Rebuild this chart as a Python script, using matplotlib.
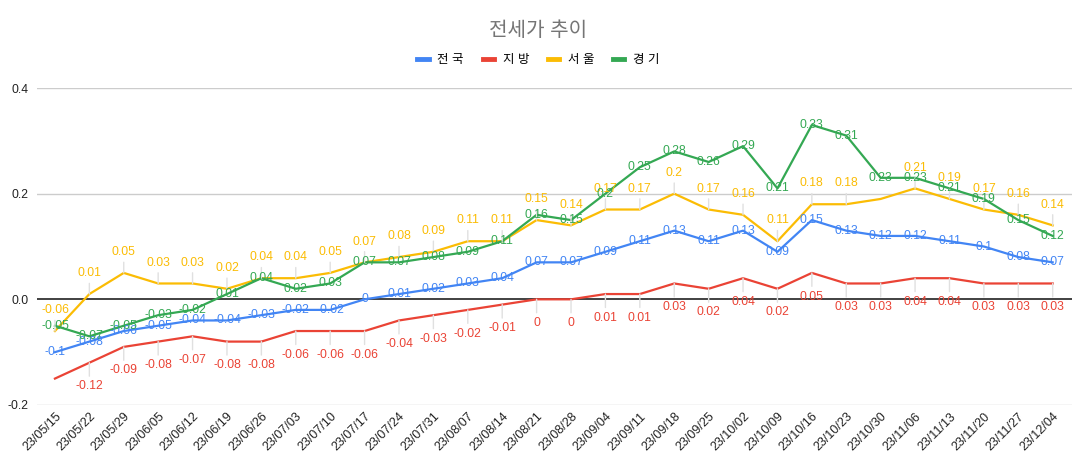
import numpy as np
import matplotlib
matplotlib.use("Agg")
import matplotlib.pyplot as plt

plt.rcParams['font.family'] = ['Liberation Sans', 'Noto Sans CJK KR', 'DejaVu Sans']

dates = ["23/05/15", "23/05/22", "23/05/29", "23/06/05", "23/06/12", "23/06/19",
         "23/06/26", "23/07/03", "23/07/10", "23/07/17", "23/07/24", "23/07/31",
         "23/08/07", "23/08/14", "23/08/21", "23/08/28", "23/09/04", "23/09/11",
         "23/09/18", "23/09/25", "23/10/02", "23/10/09", "23/10/16", "23/10/23",
         "23/10/30", "23/11/06", "23/11/13", "23/11/20", "23/11/27", "23/12/04"]
nation = [-0.1, -0.08, -0.06, -0.05, -0.04, -0.04, -0.03, -0.02, -0.02, 0,
          0.01, 0.02, 0.03, 0.04, 0.07, 0.07, 0.09, 0.11, 0.13, 0.11,
          0.13, 0.09, 0.15, 0.13, 0.12, 0.12, 0.11, 0.1, 0.08, 0.07]
local = [-0.15, -0.12, -0.09, -0.08, -0.07, -0.08, -0.08, -0.06, -0.06, -0.06,
         -0.04, -0.03, -0.02, -0.01, 0, 0, 0.01, 0.01, 0.03, 0.02,
         0.04, 0.02, 0.05, 0.03, 0.03, 0.04, 0.04, 0.03, 0.03, 0.03]
seoul = [-0.06, 0.01, 0.05, 0.03, 0.03, 0.02, 0.04, 0.04, 0.05, 0.07,
         0.08, 0.09, 0.11, 0.11, 0.15, 0.14, 0.17, 0.17, 0.2, 0.17,
         0.16, 0.11, 0.18, 0.18, 0.19, 0.21, 0.19, 0.17, 0.16, 0.14]
gyeonggi = [-0.05, -0.07, -0.05, -0.03, -0.02, 0.01, 0.04, 0.02, 0.03, 0.07,
            0.07, 0.08, 0.09, 0.11, 0.16, 0.15, 0.2, 0.25, 0.28, 0.26,
            0.29, 0.21, 0.33, 0.31, 0.23, 0.23, 0.21, 0.19, 0.15, 0.12]
# labels hidden in the original chart
hide_local = [0]
hide_seoul = [24]

names = ["전 국", "지 방", "서 울", "경 기"]
colors = ["#4285F4", "#EA4335", "#FBBC04", "#34A853"]

fig = plt.figure(figsize=(10.77, 4.62), dpi=100)
ax = fig.add_axes([0.0344, 0.1234, 0.9606, 0.6861])
x = np.arange(len(dates))

for v in [0.4, 0.2, -0.2]:
    ax.axhline(v, color="#cccccc", lw=1, zorder=0)
ax.axhline(0, color="#333333", lw=1.3, zorder=1)

series = [nation, local, seoul, gyeonggi]
for s, c in zip(series, colors):
    ax.plot(x, s, color=c, lw=1.6, zorder=2)

def fmt(v):
    return "0" if v == 0 else ("%g" % v)

stem = dict(arrowstyle='-', color='#e0e0e0', lw=1, shrinkA=1, shrinkB=0)
for i, v in enumerate(seoul):
    if i in hide_seoul:
        continue
    ax.annotate(fmt(v), (i, v), xytext=(0, 15), textcoords='offset points',
                ha='center', va='center', fontsize=8.7, color=colors[2],
                arrowprops=stem, zorder=3)
for i, v in enumerate(local):
    if i in hide_local:
        continue
    ax.annotate(fmt(v), (i, v), xytext=(0, -17), textcoords='offset points',
                ha='center', va='center', fontsize=8.7, color=colors[1],
                arrowprops=stem, zorder=3)
for i, v in enumerate(nation):
    ax.annotate(fmt(v), (i, v), ha='center', va='center', fontsize=8.7,
                color=colors[0], zorder=4)
for i, v in enumerate(gyeonggi):
    ax.annotate(fmt(v), (i, v), ha='center', va='center', fontsize=8.7,
                color=colors[3], zorder=5)

ax.set_xlim(-0.52, 29.55)
ax.set_ylim(-0.2, 0.4)
ax.set_yticks([-0.2, 0.0, 0.2, 0.4])
ax.set_yticklabels(["-0.2", "0.0", "0.2", "0.4"])
ax.set_xticks(x)
ax.set_xticklabels(dates, rotation=45, ha='right', va='top', rotation_mode='anchor')
ax.tick_params(axis='both', length=0, colors='#222222')
ax.tick_params(axis='y', pad=6, labelsize=8.7)
ax.tick_params(axis='x', pad=4, labelsize=9)
for sp in ax.spines.values():
    sp.set_visible(False)

fig.text(0.5, 0.935, "전세가 추이", ha='center', va='center', fontsize=14.5, color='#757575')

handles = [plt.Line2D([], [], color=c, lw=3.5) for c in colors]
fig.legend(handles, names, loc='center', bbox_to_anchor=(0.5, 0.87), ncol=4,
           frameon=False, fontsize=9, handlelength=0.9, handletextpad=0.7,
           columnspacing=1.5)

fig.savefig("out.png", dpi=100)
